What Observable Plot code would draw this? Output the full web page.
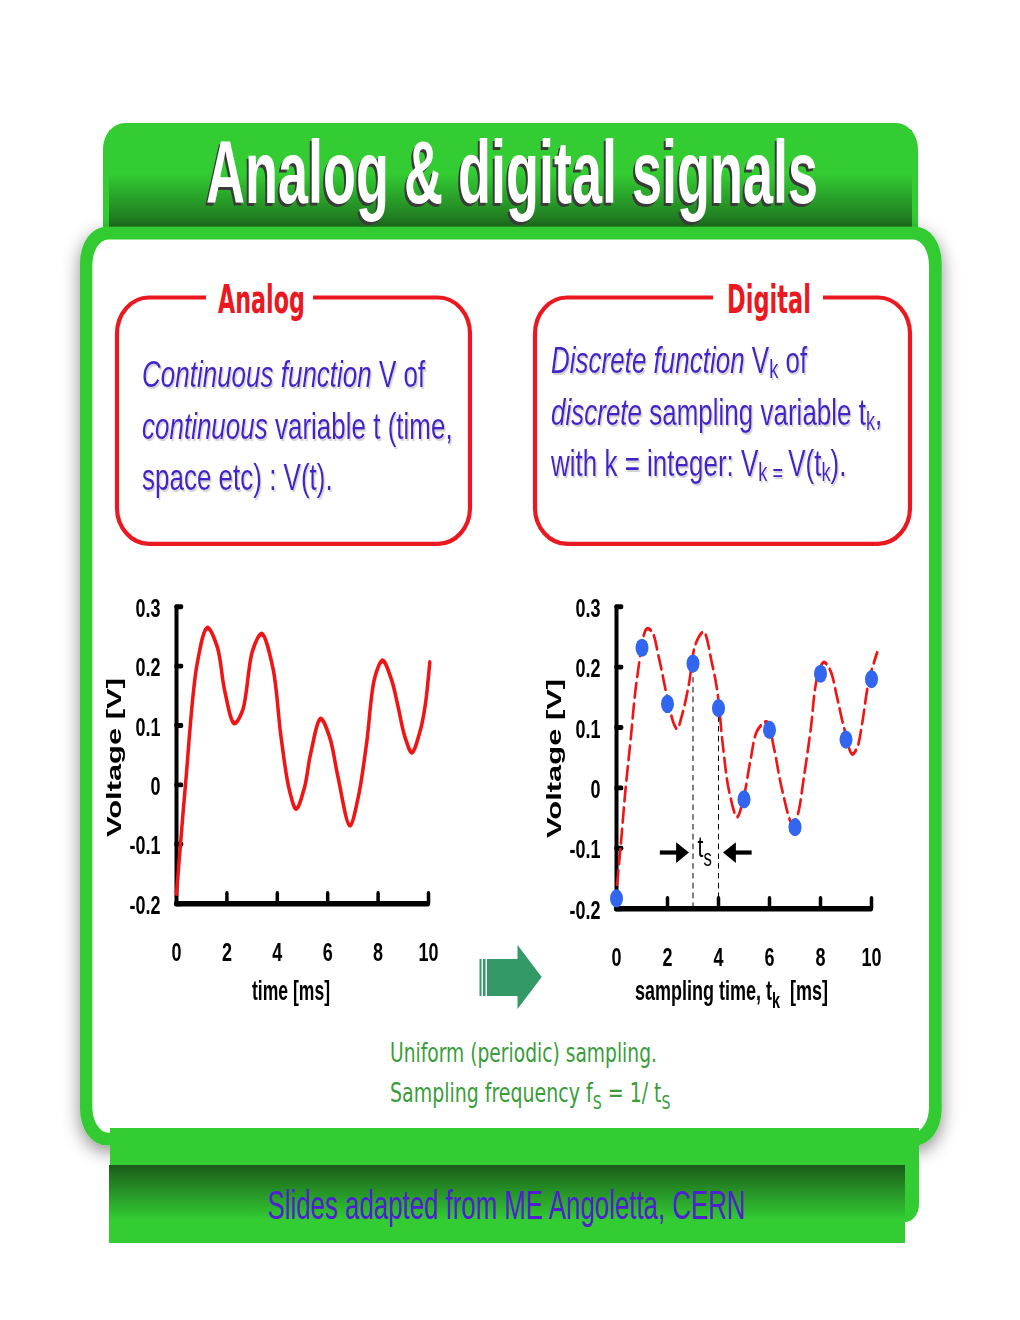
<!DOCTYPE html>
<html><head><meta charset="utf-8">
<script src="https://cdn.jsdelivr.net/npm/d3@7"></script>
<script src="https://cdn.jsdelivr.net/npm/@observablehq/plot@0.6"></script>
<style>
html,body{margin:0;padding:0;background:#fff;}
#page{position:relative;width:1020px;height:1320px;overflow:hidden;background:#fff;}
#deco{position:absolute;left:0;top:0;}
.chart{position:absolute;transform-origin:0 0;transform:scaleY(1.4);}
</style></head>
<body><div id="page"><svg id="deco" width="1020" height="1320"></svg></div>
<script>
// ---------------- DATA ----------------
const xTicks = [0, 2, 4, 6, 8, 10];
const xTickLabels = ["0", "2", "4", "6", "8", "10"];
const yTicks = [-0.2, -0.1, 0, 0.1, 0.2, 0.3];
const yTickLabels = ["-0.2", "-0.1", "0", "0.1", "0.2", "0.3"];

// analog signal V(t)
const analogT = [0, 0.16, 0.36, 0.82, 1.22, 1.62, 1.91, 2.29, 2.62, 3.02, 3.38, 3.82, 4.15, 4.48, 4.75, 5.08, 5.32, 5.72, 6.08, 6.41, 6.88, 7.21, 7.54, 7.87, 8.18, 8.54, 8.78, 9.07, 9.34, 9.67, 9.87, 10.05];
const analogV = [-0.183, -0.099, 0.002, 0.204, 0.264, 0.232, 0.159, 0.104, 0.125, 0.226, 0.254, 0.198, 0.080, -0.009, -0.040, -0.004, 0.052, 0.111, 0.080, 0.013, -0.068, -0.021, 0.069, 0.181, 0.209, 0.176, 0.134, 0.080, 0.055, 0.091, 0.134, 0.206];

// dashed underlying signal in the right panel
const dashedT = [0.02, 0.16, 0.35, 0.55, 0.81, 1.18, 1.4, 1.66, 1.99, 2.25, 2.38, 2.58, 2.84, 3.1, 3.42, 3.75, 3.95, 4.18, 4.41, 4.73, 4.99, 5.25, 5.52, 5.91, 6.17, 6.5, 6.9, 7.1, 7.35, 7.61, 7.87, 8.13, 8.39, 8.65, 8.92, 9.24, 9.44, 9.63, 9.9, 10.22];
const dashedV = [-0.16, -0.098, -0.004, 0.078, 0.183, 0.263, 0.258, 0.216, 0.15, 0.106, 0.098, 0.122, 0.172, 0.238, 0.258, 0.205, 0.161, 0.067, -0.004, -0.048, -0.015, 0.045, 0.095, 0.109, 0.067, -0.004, -0.06, -0.045, 0.018, 0.095, 0.183, 0.208, 0.194, 0.15, 0.10, 0.056, 0.067, 0.106, 0.178, 0.224];

// samples V_k = V(t_k)
const sampleT = [0, 1, 2, 3, 4, 5, 6, 7, 8, 9, 10];
const sampleV = [-0.183, 0.232, 0.139, 0.206, 0.132, -0.019, 0.096, -0.065, 0.189, 0.080, 0.180];

// t_s annotation
const tsSampleIdx = [3, 4];
const tsArrowFrom = [1.7, 5.3];
const tsArrowTip = [2.84, 4.18];
const tsArrowV = -0.107;
const tsLabelT = 3.2;
const tsLabelV = -0.1156;

// texts
const titleText = "Analog & digital signals";
const analogHeader = "Analog";
const digitalHeader = "Digital";
const analogLines = [
  [{s: "Continuous function", i: 1}, {s: " V of"}],
  [{s: "continuous", i: 1}, {s: " variable t (time,"}],
  [{s: "space etc) : V(t)."}]
];
const digitalLines = [
  [{s: "Discrete function", i: 1}, {s: " V"}, {s: "k", sub: 1}, {s: " of"}],
  [{s: "discrete", i: 1}, {s: " sampling variable t"}, {s: "k", sub: 1}, {s: ","}],
  [{s: "with k = integer: V"}, {s: "k = ", sub: 1}, {s: "V(t"}, {s: "k", sub: 1}, {s: ")."}]
];
const noteLines = [
  [{s: "Uniform (periodic) sampling."}],
  [{s: "Sampling frequency f"}, {s: "S", sub: 1}, {s: " = 1/ t"}, {s: "S", sub: 1}]
];
const footerText = "Slides adapted from ME Angoletta, CERN";
const xTitleAnalog = [{s: "time [ms]"}];
const xTitleDigital = [{s: "sampling time, t"}, {s: "k", sub: 1}, {s: "  [ms]"}];
const yTitle = "Voltage [V]";
const tsText = [{s: "t"}, {s: "s", sub: 1}];

// ---------------- HELPERS ----------------
const S = 1.4; // vertical stretch of the slide

function richText(parent, parts, o) {
  const size = o.size;
  const t = parent.append("text")
    .attr("font-family", o.family)
    .attr("font-size", size)
    .attr("font-weight", o.weight || "normal")
    .attr("fill", o.fill || "#000")
    .attr("text-anchor", o.anchor || "start")
    .attr("xml:space", "preserve")
    .style("white-space", "pre");
  if (o.filter) t.attr("filter", o.filter);
  let cur = 0;
  for (const p of parts) {
    const want = p.sub ? size * (o.subShift ?? 0.15) : 0;
    const sp = t.append("tspan").text(p.s);
    if (p.i) sp.attr("font-style", "italic");
    if (p.sub) sp.attr("font-size", size * (o.subScale ?? 0.7));
    if (want !== cur) { sp.attr("dy", want - cur); cur = want; }
  }
  let kx = 1;
  if (o.w) { const bw = t.node().getBBox().width; if (bw > 0) kx = o.w / bw; }
  t.attr("transform", `translate(${o.x},${o.y})${o.rotate ? ` rotate(${o.rotate})` : ""} scale(${kx},${o.sy ?? 1})`);
  return t;
}

function rrPath(x0, y0, x1, y1, rx, ry, c) {
  const [tl, tr, br, bl] = c;
  let p = `M${x0 + (tl ? rx : 0)},${y0}L${x1 - (tr ? rx : 0)},${y0}`;
  if (tr) p += `A${rx},${ry} 0 0 1 ${x1},${y0 + ry}`;
  p += `L${x1},${y1 - (br ? ry : 0)}`;
  if (br) p += `A${rx},${ry} 0 0 1 ${x1 - rx},${y1}`;
  p += `L${x0 + (bl ? rx : 0)},${y1}`;
  if (bl) p += `A${rx},${ry} 0 0 1 ${x0},${y1 - ry}`;
  p += `L${x0},${y0 + (tl ? ry : 0)}`;
  if (tl) p += `A${rx},${ry} 0 0 1 ${x0 + rx},${y0}`;
  return p + "Z";
}

// ---------------- SLIDE DECORATION ----------------
const deco = d3.select("#deco");
const defs = deco.append("defs");
const gT = defs.append("linearGradient").attr("id", "gTitle").attr("x1", 0).attr("y1", 0).attr("x2", 0).attr("y2", 1);
gT.append("stop").attr("offset", 0.45).attr("stop-color", "#33cc33");
gT.append("stop").attr("offset", 1).attr("stop-color", "#1d6e1d");
const gF = defs.append("linearGradient").attr("id", "gFoot").attr("x1", 0).attr("y1", 0).attr("x2", 0).attr("y2", 1);
gF.append("stop").attr("offset", 0).attr("stop-color", "#1a5c1a");
gF.append("stop").attr("offset", 0.7).attr("stop-color", "#33cc33");
gF.append("stop").attr("offset", 1).attr("stop-color", "#33cc33");
const fS = defs.append("filter").attr("id", "shadow").attr("x", "-10%").attr("y", "-10%").attr("width", "120%").attr("height", "120%");
fS.append("feDropShadow").attr("dx", 0).attr("dy", 6).attr("stdDeviation", 9).attr("flood-color", "#000").attr("flood-opacity", 0.45);
const fT = defs.append("filter").attr("id", "tshadow").attr("x", "-5%").attr("y", "-20%").attr("width", "110%").attr("height", "140%");
fT.append("feDropShadow").attr("dx", 1.3).attr("dy", 1.5).attr("stdDeviation", 0.3).attr("flood-color", "#d2d2d2").attr("flood-opacity", 1);

// title banner
deco.append("path").attr("d", rrPath(103, 123, 918, 240, 22, 26, [1, 1, 0, 0])).attr("fill", "#33cc33");
deco.append("rect").attr("x", 109).attr("y", 130).attr("width", 803).attr("height", 97).attr("fill", "url(#gTitle)");
// main panel
deco.append("rect").attr("x", 80).attr("y", 226.7).attr("width", 861.7).attr("height", 918.6)
  .attr("rx", 26).attr("ry", 36).attr("fill", "#33cc33").attr("filter", "url(#shadow)");
deco.append("rect").attr("x", 92.3).attr("y", 239.5).attr("width", 836.7).attr("height", 893.2)
  .attr("rx", 16).attr("ry", 26).attr("fill", "#fff");
// footer
deco.append("path").attr("d", rrPath(110, 1128, 919, 1222, 14, 18, [0, 0, 1, 0])).attr("fill", "#33cc33");
deco.append("rect").attr("x", 109).attr("y", 1165).attr("width", 796).attr("height", 78).attr("fill", "url(#gFoot)");

// red boxes
const red = "#ea1821";
deco.append("rect").attr("x", 117).attr("y", 297.5).attr("width", 353).attr("height", 246.3)
  .attr("rx", 32).attr("ry", 36).attr("fill", "none").attr("stroke", red).attr("stroke-width", 4.2);
deco.append("rect").attr("x", 535).attr("y", 297.5).attr("width", 375).attr("height", 246.3)
  .attr("rx", 32).attr("ry", 36).attr("fill", "none").attr("stroke", red).attr("stroke-width", 4.2);
deco.append("rect").attr("x", 206).attr("y", 290).attr("width", 107).attr("height", 15).attr("fill", "#fff");
deco.append("rect").attr("x", 713).attr("y", 290).attr("width", 110).attr("height", 15).attr("fill", "#fff");

richText(deco, [{s: analogHeader}], {x: 218, y: 313, size: 27.5, family: "DejaVu Sans", weight: "bold", fill: red, w: 87, sy: S});
richText(deco, [{s: digitalHeader}], {x: 727, y: 313, size: 27.5, family: "DejaVu Sans", weight: "bold", fill: red, w: 84, sy: S});

const boxBlue = "#4422c8";
[387, 438.5, 490].forEach((y, i) => richText(deco, analogLines[i], {x: 142, y, size: 26, family: "Liberation Sans", fill: boxBlue, sy: S, filter: "url(#tshadow)"}));
[373, 424.5, 475.5].forEach((y, i) => richText(deco, digitalLines[i], {x: 551, y, size: 26, family: "Liberation Sans", fill: boxBlue, sy: S, filter: "url(#tshadow)"}));

// block arrow
const arrowCol = "#339966";
deco.append("rect").attr("x", 479.5).attr("y", 959).attr("width", 2).attr("height", 37).attr("fill", arrowCol);
deco.append("rect").attr("x", 483).attr("y", 959).attr("width", 2.5).attr("height", 37).attr("fill", arrowCol);
deco.append("path").attr("d", "M487,959L517.5,959L517.5,945L541.7,977L517.5,1009L517.5,996L487,996Z").attr("fill", arrowCol);

// green note
const noteGreen = "#3a9c3a";
richText(deco, noteLines[0], {x: 390, y: 1061.5, size: 18.5, family: "DejaVu Sans", fill: noteGreen, w: 267, sy: S});
richText(deco, noteLines[1], {x: 390, y: 1101.5, size: 18.5, family: "DejaVu Sans", fill: noteGreen, w: 281, sy: S, subScale: 0.75, subShift: 0.28});

// title
richText(deco, [{s: titleText}], {x: 510, y: 205.5, anchor: "middle", size: 64, family: "Liberation Sans", weight: "bold", fill: "#3b3b3b", w: 612, sy: S});
richText(deco, [{s: titleText}], {x: 512, y: 203, anchor: "middle", size: 64, family: "Liberation Sans", weight: "bold", fill: "#ffffff", w: 612, sy: S});

// footer text
richText(deco, [{s: footerText}], {x: 506.5, y: 1219, anchor: "middle", size: 29, family: "Liberation Sans", fill: "#5020d0", w: 478, sy: S});

// ---------------- CHARTS ----------------
const analogData = analogT.map((t, i) => ({t, v: analogV[i]}));
const dashedData = dashedT.map((t, i) => ({t, v: dashedV[i]}));
const sampleData = sampleT.map((t, i) => ({t, v: sampleV[i]}));
const tsLines = tsSampleIdx.map(i => sampleData[i]);

const axisMarks = () => [
  Plot.axisX({ticks: xTicks, tickSize: 0, tickPadding: 28, tickFormat: d => xTickLabels[xTicks.indexOf(d)], label: null, fontSize: 18, fontWeight: "bold"}),
  Plot.axisY({ticks: yTicks, tickSize: 0, tickPadding: 16, dy: 1.5, tickFormat: d => yTickLabels[yTicks.indexOf(d)], label: null, fontSize: 18, fontWeight: "bold"}),
  Plot.ruleX([0], {y1: -0.2, y2: 0.3, stroke: "#000", strokeWidth: 4}),
  Plot.ruleY([-0.2], {x1: 0, x2: 10, stroke: "#000", strokeWidth: 4, strokeLinecap: "round"}),
  Plot.ruleY(yTicks, {y: d => d, x1: 0, x2: 0.22, stroke: "#000", strokeWidth: 3.5, strokeLinecap: "round"}),
  Plot.ruleX(xTicks.slice(1), {x: d => d, y1: -0.2, y2: -0.184, stroke: "#000", strokeWidth: 3.5, strokeLinecap: "round"})
];

function chart({left, top, width, height, x0, x10, yHi, yLo, marks}) {
  const div = d3.select("#page").append("div").attr("class", "chart")
    .style("left", left + "px").style("top", top + "px").style("width", width + "px");
  const p = Plot.plot({
    width, height,
    marginLeft: x0 - left, marginRight: width - (x10 - left),
    marginTop: (yHi - top) / S, marginBottom: height - (yLo - top) / S,
    x: {domain: [0, 10]},
    y: {domain: [-0.2, 0.3]},
    style: {fontFamily: "'Liberation Sans', Arial, sans-serif", fontSize: "18px", fontWeight: "bold", color: "#000", background: "transparent", overflow: "visible"},
    marks
  });
  div.node().appendChild(p);
  return p;
}

const leftPlot = chart({
  left: 90, top: 570, width: 360, height: 320, x0: 176, x10: 428, yHi: 606, yLo: 903,
  marks: [
    ...axisMarks(),
    Plot.line(analogData, {x: "t", y: "v", stroke: "#f01414", strokeWidth: 3.5, curve: "catmull-rom"})
  ]
});

const rightPlot = chart({
  left: 530, top: 570, width: 363, height: 320, x0: 616, x10: 871, yHi: 606, yLo: 908,
  marks: [
    ...axisMarks(),
    Plot.line(dashedData, {x: "t", y: "v", stroke: "#f01414", strokeWidth: 2.6, strokeDasharray: "10,5", curve: "catmull-rom"}),
    Plot.ruleX(tsLines, {x: "t", y1: -0.2, y2: "v", stroke: "#000", strokeWidth: 1, strokeDasharray: "4,3"}),
    Plot.link([0, 1], {x1: i => tsArrowFrom[i], x2: i => tsArrowTip[i] + (i === 0 ? -0.3 : 0.3), y1: () => tsArrowV, y2: () => tsArrowV, stroke: "#000", strokeWidth: 3}),
    Plot.dot([0], {x: () => tsArrowTip[0], y: () => tsArrowV, symbol: "triangle", rotate: 90, r: 5.5, dx: -8.5, fill: "#000", stroke: "none"}),
    Plot.dot([1], {x: () => tsArrowTip[1], y: () => tsArrowV, symbol: "triangle", rotate: -90, r: 5.5, dx: 8.5, fill: "#000", stroke: "none"}),
    Plot.dot(sampleData, {x: "t", y: "v", r: 6.5, fill: "#3366ee", stroke: "none"})
  ]
});

// axis titles and annotation text (inside the stretched chart SVGs)
const sl = d3.select(leftPlot), sr = d3.select(rightPlot);
richText(sl, xTitleAnalog, {x: 201, y: 307, anchor: "middle", size: 19.5, family: "Liberation Sans", weight: "bold", w: 78});
richText(sr, xTitleDigital, {x: 201.5, y: 307, anchor: "middle", size: 19.5, family: "Liberation Sans", weight: "bold", w: 193, subScale: 0.8, subShift: 0.3});
richText(sl, [{s: yTitle}], {x: 31, y: 134, rotate: -90, anchor: "middle", size: 19.5, family: "Liberation Sans", weight: "bold", w: 113.6});
richText(sr, [{s: yTitle}], {x: 31, y: 134.6, rotate: -90, anchor: "middle", size: 19.5, family: "Liberation Sans", weight: "bold", w: 113.6});
const xs = rightPlot.scale("x"), ys = rightPlot.scale("y");
richText(sr, tsText, {x: xs.apply(tsLabelT), y: ys.apply(tsLabelV), size: 21, family: "Liberation Sans", subScale: 0.8, subShift: 0.3});
</script>
</body></html>
